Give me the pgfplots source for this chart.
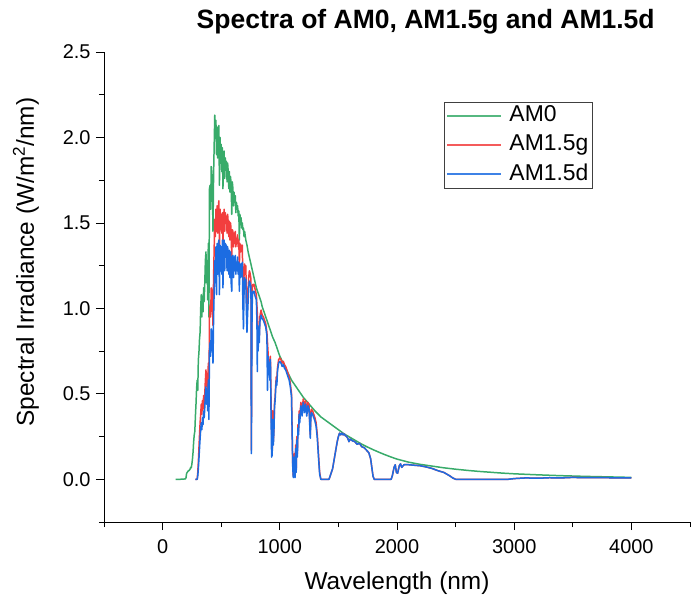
\documentclass[border=0pt]{standalone}
\usepackage{pgfplots}
\pgfplotsset{compat=1.18}
\usepackage{fontspec}
\setmainfont{Liberation Sans}
\definecolor{gAM}{RGB}{56,171,106}
\definecolor{rAM}{RGB}{242,62,62}
\definecolor{bAM}{RGB}{28,108,226}
\begin{document}
\begin{tikzpicture}
\begin{axis}[
  scale only axis, width=586bp, height=470bp,
  xmin=-500, xmax=4500, ymin=-0.25, ymax=2.5,
  axis x line*=bottom, axis y line*=left,
  axis line style={-, black, line width=0.8pt},
  xtick={0,1000,2000,3000,4000},
  minor xtick={-500,500,1500,2500,3500,4500},
  ytick={0,0.5,1.0,1.5,2.0,2.5},
  minor ytick={-0.25,0.25,0.75,1.25,1.75,2.25},
  tick align=outside,
  major tick length=8bp, minor tick length=5bp,
  tick style={black, line width=0.8pt},
  scaled x ticks=false, scaled y ticks=false,
  /pgf/number format/assume math mode=true,
  /pgf/number format/1000 sep={},
  yticklabel style={/pgf/number format/.cd, fixed, fixed zerofill, precision=1, /tikz/.cd, xshift=-2bp},
  xticklabel style={yshift=-6bp},
  tick label style={font=\fontsize{20}{20}\selectfont},
  xlabel={Wavelength (nm)},
  ylabel={Spectral Irradiance (W/m\textsuperscript{2}/nm)},
  label style={font=\fontsize{24.5}{24.5}\selectfont},
  xlabel style={at={(axis description cs:0.5,-0.1426)}, anchor=base},
  ylabel style={at={(axis description cs:-0.1195,0.553)}, anchor=base, rotate=0},
  title={Spectra of AM0, AM1.5g and AM1.5d},
  title style={font=\fontsize{26.6}{26.6}\selectfont\bfseries, at={(axis description cs:0.549,1.038)}, anchor=base},
  legend style={at={(axis description cs:0.580,0.894)}, anchor=north west,
    draw=black!75, line width=0.6pt, font=\fontsize{23}{23}\selectfont,
    inner xsep=2bp, inner ysep=1.5bp, row sep=5bp,
    nodes={inner sep=1.5bp, text height=16.5bp, text depth=4.8bp},
    /tikz/every odd column/.append style={column sep=6bp}},
  legend cell align=left,
]
\addplot[draw=gAM, line width=1.5pt, line join=round, forget plot] coordinates {
(112,0) (150,0) (195,0.002) (200,0.01) (205,0.035) (210,0.04) (215,0.045) (220,0.05) (225,0.05) (230,0.055) (235,0.06) (240,0.07) (245,0.068) (250,0.09) (255,0.12) (260,0.16) (265,0.22) (270,0.26) (275,0.28) (280,0.37) (285,0.44) (290,0.53) (295,0.58) (300,0.52) (305,0.70) (310,0.74) (315,0.82) (320,0.86) (325,1.00) (330,1.08) (335,0.95) (340,1.07) (345,0.98) (350,1.12) (355,1.04) (360,1.15) (365,1.28) (370,1.33) (375,1.15) (380,1.28) (385,1.05) (390,1.38) (395,0.95) (400,1.70) (405,1.72) (410,1.58) (415,1.83) (420,1.78) (425,1.68) (430,1.45) (435,1.78) (440,1.95) (445,2.13) (450,2.00) (455,2.10) (460,1.90) (465,2.06) (470,1.88) (475,2.05) (480,2.07) (485,1.72) (490,2.00) (495,1.85) (500,1.96) (505,1.80) (510,1.94) (515,1.70) (520,1.88) (525,1.92) (530,1.76) (535,1.88) (540,1.82) (545,1.86) (550,1.74) (555,1.85) (560,1.80) (565,1.70) (570,1.80) (575,1.68) (580,1.77) (585,1.72) (590,1.55) (595,1.74) (600,1.70) (605,1.60) (610,1.68) (615,1.62) (620,1.66) (625,1.56) (630,1.62) (635,1.58) (640,1.60) (645,1.54) (650,1.57) (655,1.40) (660,1.55) (665,1.49) (670,1.53) (675,1.47) (680,1.50) (685,1.46) (690,1.47) (695,1.42) (700,1.45) (710,1.40) (720,1.37) (730,1.33) (740,1.30) (750,1.27) (760,1.24) (770,1.21) (780,1.18) (790,1.15) (800,1.12) (810,1.10) (820,1.08) (830,1.06) (840,1.04) (850,1.01) (860,0.99) (870,0.97) (880,0.95) (890,0.93) (900,0.91) (920,0.87) (940,0.83) (960,0.80) (980,0.76) (1000,0.72) (1050,0.65) (1100,0.58) (1150,0.53) (1200,0.48) (1250,0.44) (1300,0.40) (1350,0.365) (1400,0.34) (1450,0.315) (1500,0.29) (1550,0.265) (1600,0.245) (1650,0.225) (1700,0.205) (1750,0.188) (1800,0.172) (1850,0.157) (1900,0.143) (1950,0.130) (2000,0.118) (2100,0.100) (2200,0.087) (2300,0.077) (2400,0.067) (2500,0.059) (2600,0.052) (2700,0.046) (2800,0.041) (2900,0.036) (3000,0.032) (3200,0.026) (3400,0.021) (3600,0.017) (3800,0.014) (4000,0.011)
};
\addplot[draw=rAM, line width=1.5pt, line join=round, forget plot] coordinates {
(280,0) (295,0) (300,0.04) (305,0.10) (310,0.18) (315,0.26) (320,0.33) (325,0.38) (330,0.44) (335,0.38) (340,0.46) (345,0.41) (350,0.49) (355,0.44) (360,0.50) (365,0.58) (370,0.64) (375,0.54) (380,0.62) (385,0.50) (390,0.68) (395,0.46) (400,0.95) (405,1.02) (410,0.95) (415,1.12) (420,1.10) (425,1.05) (430,0.90) (435,1.18) (440,1.35) (445,1.52) (450,1.42) (455,1.58) (460,1.45) (465,1.60) (470,1.44) (475,1.58) (480,1.63) (485,1.35) (490,1.58) (495,1.46) (500,1.55) (505,1.44) (510,1.56) (515,1.38) (520,1.52) (525,1.58) (530,1.45) (535,1.56) (540,1.50) (545,1.54) (550,1.44) (555,1.55) (560,1.50) (565,1.42) (570,1.51) (575,1.40) (580,1.50) (585,1.45) (590,1.28) (595,1.46) (600,1.45) (605,1.36) (610,1.44) (615,1.38) (620,1.45) (625,1.36) (630,1.40) (635,1.38) (640,1.43) (645,1.36) (650,1.40) (655,1.25) (660,1.38) (665,1.33) (670,1.37) (675,1.34) (680,1.37) (685,1.15) (690,1.05) (695,1.20) (700,1.26) (705,1.22) (710,1.25) (715,1.08) (720,0.96) (725,1.04) (730,1.12) (735,1.18) (740,1.22) (745,1.21) (750,1.19) (754,1.17) (756,0.65) (757,0.17) (759,0.42) (762,0.92) (766,1.12) (770,1.14) (780,1.14) (790,1.11) (800,1.08) (810,0.95) (815,0.80) (820,0.88) (825,0.84) (830,0.95) (840,0.99) (850,0.96) (860,0.95) (870,0.93) (880,0.91) (890,0.86) (895,0.80) (900,0.74) (905,0.66) (910,0.70) (915,0.62) (920,0.72) (925,0.48) (930,0.30) (935,0.15) (940,0.40) (945,0.22) (950,0.30) (955,0.45) (960,0.48) (965,0.55) (970,0.60) (975,0.58) (980,0.65) (990,0.70) (1000,0.71) (1010,0.70) (1020,0.68) (1030,0.69) (1040,0.67) (1050,0.66) (1060,0.64) (1070,0.62) (1080,0.60) (1090,0.56) (1100,0.50) (1105,0.30) (1110,0.10) (1115,0.02) (1120,0.05) (1125,0.15) (1130,0.02) (1135,0.20) (1140,0.05) (1145,0.25) (1150,0.15) (1155,0.32) (1160,0.28) (1165,0.40) (1170,0.36) (1180,0.45) (1190,0.40) (1200,0.47) (1210,0.42) (1220,0.46) (1230,0.40) (1240,0.45) (1250,0.43) (1260,0.26) (1265,0.38) (1270,0.41) (1280,0.40) (1290,0.38) (1300,0.36) (1310,0.33) (1320,0.26) (1330,0.15) (1340,0.04) (1350,0) (1420,0) (1430,0.02) (1440,0.04) (1450,0.06) (1460,0.10) (1470,0.14) (1480,0.18) (1490,0.22) (1500,0.25) (1510,0.27) (1520,0.26) (1530,0.27) (1540,0.26) (1550,0.265) (1560,0.255) (1570,0.25) (1580,0.24) (1590,0.22) (1600,0.235) (1620,0.225) (1640,0.22) (1660,0.205) (1680,0.21) (1700,0.19) (1720,0.185) (1740,0.17) (1760,0.155) (1775,0.12) (1785,0.07) (1795,0.02) (1805,0) (1950,0) (1960,0.02) (1975,0.07) (1985,0.085) (1995,0.04) (2005,0.035) (2020,0.08) (2030,0.09) (2040,0.07) (2060,0.085) (2100,0.085) (2150,0.082) (2200,0.079) (2250,0.072) (2300,0.063) (2350,0.05) (2400,0.04) (2425,0.03) (2450,0.02) (2475,0.008) (2500,0) (2950,0) (3000,0.004) (3100,0.008) (3200,0.006) (3300,0.009) (3400,0.008) (3500,0.011) (3600,0.009) (3700,0.010) (3800,0.009) (3900,0.008) (4000,0.008)
};
\addplot[draw=bAM, line width=1.5pt, line join=round, forget plot] coordinates {
(280,0) (295,0) (300,0.02) (305,0.06) (310,0.12) (315,0.18) (320,0.24) (325,0.29) (330,0.33) (335,0.29) (340,0.36) (345,0.32) (350,0.40) (355,0.36) (360,0.42) (365,0.50) (370,0.54) (375,0.44) (380,0.52) (385,0.40) (390,0.58) (395,0.35) (400,0.74) (405,0.80) (410,0.72) (415,0.88) (420,0.86) (425,0.82) (430,0.68) (435,0.94) (440,1.10) (445,1.28) (450,1.15) (455,1.36) (460,1.08) (465,1.38) (470,1.20) (475,1.36) (480,1.40) (485,1.08) (490,1.37) (495,1.22) (500,1.36) (505,1.20) (510,1.40) (515,1.12) (520,1.34) (525,1.40) (530,1.22) (535,1.38) (540,1.30) (545,1.37) (550,1.22) (555,1.36) (560,1.32) (565,1.20) (570,1.34) (575,1.18) (580,1.33) (585,1.15) (590,1.10) (595,1.30) (600,1.31) (605,1.18) (610,1.30) (615,1.22) (620,1.31) (625,1.20) (630,1.27) (635,1.22) (640,1.30) (645,1.20) (650,1.27) (655,1.10) (660,1.26) (665,1.18) (670,1.26) (675,1.20) (680,1.27) (685,1.02) (690,0.88) (695,1.10) (700,1.18) (705,1.12) (710,1.17) (715,0.98) (720,0.86) (725,0.96) (730,1.05) (735,1.12) (740,1.16) (745,1.15) (750,1.14) (754,1.12) (756,0.60) (757,0.15) (759,0.38) (762,0.88) (766,1.08) (770,1.10) (780,1.10) (790,1.07) (800,1.05) (805,0.92) (808,0.63) (812,0.90) (815,0.75) (820,0.85) (825,0.80) (830,0.92) (840,0.96) (850,0.94) (860,0.93) (870,0.91) (880,0.89) (890,0.84) (895,0.52) (900,0.72) (905,0.62) (910,0.68) (915,0.58) (920,0.70) (925,0.40) (930,0.13) (935,0.14) (940,0.35) (945,0.20) (950,0.28) (955,0.42) (960,0.46) (965,0.53) (970,0.58) (975,0.55) (980,0.63) (990,0.68) (1000,0.69) (1010,0.68) (1020,0.66) (1030,0.67) (1040,0.65) (1050,0.64) (1060,0.62) (1070,0.60) (1080,0.58) (1090,0.54) (1100,0.48) (1105,0.28) (1110,0.08) (1115,0.01) (1120,0.04) (1125,0.13) (1130,0.01) (1135,0.18) (1140,0.04) (1145,0.23) (1150,0.13) (1155,0.30) (1160,0.26) (1165,0.38) (1170,0.33) (1180,0.43) (1190,0.37) (1200,0.45) (1210,0.39) (1220,0.44) (1230,0.37) (1240,0.43) (1250,0.41) (1260,0.24) (1265,0.36) (1270,0.39) (1280,0.38) (1290,0.36) (1300,0.34) (1310,0.31) (1320,0.24) (1330,0.13) (1340,0.03) (1350,0) (1420,0) (1430,0.02) (1440,0.04) (1450,0.06) (1460,0.10) (1470,0.14) (1480,0.18) (1490,0.22) (1500,0.25) (1510,0.27) (1520,0.26) (1530,0.27) (1540,0.26) (1550,0.265) (1560,0.255) (1570,0.25) (1580,0.24) (1590,0.22) (1600,0.235) (1620,0.225) (1640,0.22) (1660,0.205) (1680,0.21) (1700,0.19) (1720,0.185) (1740,0.17) (1760,0.155) (1775,0.12) (1785,0.07) (1795,0.02) (1805,0) (1950,0) (1960,0.02) (1975,0.07) (1985,0.085) (1995,0.04) (2005,0.035) (2020,0.08) (2030,0.09) (2040,0.07) (2060,0.085) (2100,0.085) (2150,0.082) (2200,0.079) (2250,0.072) (2300,0.063) (2350,0.05) (2400,0.04) (2425,0.03) (2450,0.02) (2475,0.008) (2500,0) (2950,0) (3000,0.004) (3100,0.008) (3200,0.006) (3300,0.009) (3400,0.008) (3500,0.011) (3600,0.009) (3700,0.010) (3800,0.009) (3900,0.008) (4000,0.008)
};
\addlegendimage{legend image code/.code={\draw[draw=gAM!85!white, line width=1.8pt] (0bp,0bp) -- (54bp,0bp);}}
\addlegendentry{AM0}
\addlegendimage{legend image code/.code={\draw[draw=rAM!85!white, line width=1.8pt] (0bp,0bp) -- (54bp,0bp);}}
\addlegendentry{AM1.5g}
\addlegendimage{legend image code/.code={\draw[draw=bAM!85!white, line width=1.8pt] (0bp,0bp) -- (54bp,0bp);}}
\addlegendentry{AM1.5d}
\end{axis}
\pgfresetboundingbox
\path[use as bounding box] ([xshift=-104bp,yshift=-77bp]current axis.south west) rectangle ++(691bp,599bp);
\end{tikzpicture}
\end{document}
